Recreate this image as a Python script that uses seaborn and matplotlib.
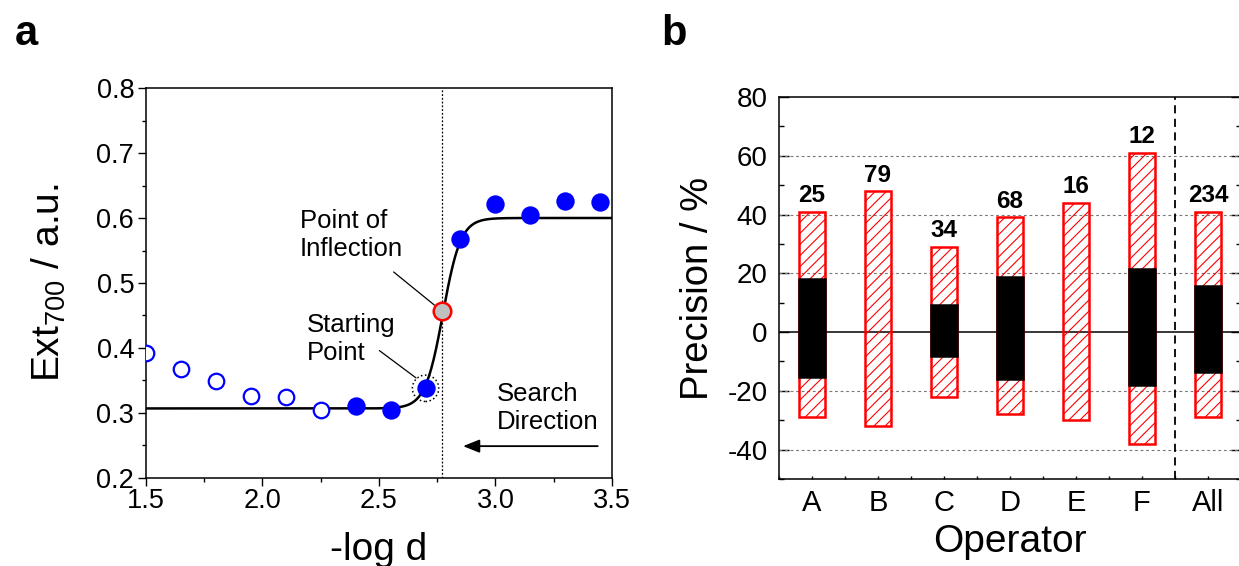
import numpy as np
import pandas as pd
import matplotlib
matplotlib.use("Agg")
import matplotlib.pyplot as plt
from matplotlib.ticker import MultipleLocator, FormatStrFormatter
import seaborn as sns

# ---------------- Panel a data ----------------
open_x = [1.50, 1.65, 1.80, 1.95, 2.10, 2.25]
open_y = [0.392, 0.367, 0.349, 0.326, 0.325, 0.304]
filled_x = [2.40, 2.55, 2.70, 2.85, 3.00, 3.15, 3.30, 3.45]
filled_y = [0.311, 0.304, 0.338, 0.567, 0.621, 0.605, 0.626, 0.624]
inflection_x = [2.77]
inflection_y = [0.457]
start_x = [2.70]
start_y = [0.338]
# Boltzmann fit parameters
fit_bottom = 0.307
fit_top = 0.600
fit_center = 2.775
fit_width = 0.038

# ---------------- Panel b data ----------------
operators = ["A", "B", "C", "D", "E", "F", "All"]
outer_high = [41.0, 48.0, 29.0, 39.0, 44.0, 61.0, 41.0]
outer_low = [-29.0, -32.0, -22.0, -28.0, -30.0, -38.0, -29.0]
inner_high = [17.9, np.nan, 9.2, 18.6, np.nan, 21.6, 15.6]
inner_low = [-15.2, np.nan, -8.3, -15.9, np.nan, -17.9, -13.7]
counts = [25, 79, 34, 68, 16, 12, 234]

sns.set_style("ticks")
plt.rcParams['font.family'] = ['Liberation Sans', 'DejaVu Sans']
plt.rcParams['mathtext.fontset'] = 'custom'
plt.rcParams['mathtext.rm'] = 'Liberation Sans'
plt.rcParams['mathtext.it'] = 'Liberation Sans:italic'
plt.rcParams['mathtext.bf'] = 'Liberation Sans:bold'
plt.rcParams['mathtext.default'] = 'regular'
plt.rcParams['hatch.linewidth'] = 0.8
plt.rcParams['axes.linewidth'] = 1.1
plt.rcParams['axes.unicode_minus'] = False
plt.rcParams['axes.edgecolor'] = 'black'
plt.rcParams['axes.labelcolor'] = 'black'
plt.rcParams['text.color'] = 'black'
plt.rcParams['xtick.color'] = 'black'
plt.rcParams['ytick.color'] = 'black'
plt.rcParams['xtick.labelcolor'] = 'black'
plt.rcParams['ytick.labelcolor'] = 'black'

fig = plt.figure(figsize=(12.39, 5.66), dpi=100)
axa = fig.add_axes([0.1178, 0.1555, 0.3761, 0.689])
axb = fig.add_axes([0.6287, 0.1537, 0.3729, 0.6749])

# ---------------- Panel a ----------------
curve_x = np.linspace(1.5, 3.5, 600)
curve_y = fit_top + (fit_bottom - fit_top) / (1 + np.exp((curve_x - fit_center) / fit_width))

axa.axvline(inflection_x[0], color='black', lw=0.9, ls=(0, (1.5, 1.5)), zorder=1)
sns.lineplot(x=curve_x, y=curve_y, ax=axa, color='black', lw=1.8, zorder=2)
sns.scatterplot(x=open_x, y=open_y, ax=axa, s=125, color='white',
                edgecolor='#0000ff', linewidth=1.6, zorder=3)
sns.scatterplot(x=filled_x, y=filled_y, ax=axa, s=175, color='#0000ff',
                linewidth=0, zorder=3)
sns.scatterplot(x=inflection_x, y=inflection_y, ax=axa, s=160, color='#c0c0c0',
                edgecolor='#ff0000', linewidth=1.8, zorder=4)
axa.scatter(start_x, start_y, s=360, facecolors='none', edgecolors='black',
            linewidths=1.1, linestyles=':', zorder=4)

text_kw = dict(fontsize=18.5, ha='left', va='top', linespacing=1.2)
axa.text(2.16, 0.614, "Point of\nInflection", **text_kw)
axa.text(2.19, 0.454, "Starting\nPoint", **text_kw)
axa.text(3.006, 0.347, "Search\nDirection", **text_kw)
axa.plot([2.563, 2.738], [0.517, 0.466], color='black', lw=0.9, zorder=3)
axa.plot([2.502, 2.659], [0.396, 0.354], color='black', lw=0.9, zorder=3)
axa.annotate('', xy=(2.861, 0.249), xytext=(3.439, 0.249),
             arrowprops=dict(arrowstyle='-|>,head_length=0.5,head_width=0.2',
                             mutation_scale=20, lw=1.3, color='black',
                             shrinkA=0, shrinkB=0))

axa.set_xlim(1.5, 3.5)
axa.set_ylim(0.2, 0.8)
axa.xaxis.set_major_locator(MultipleLocator(0.5))
axa.xaxis.set_minor_locator(MultipleLocator(0.25))
axa.yaxis.set_major_locator(MultipleLocator(0.1))
axa.yaxis.set_minor_locator(MultipleLocator(0.05))
axa.xaxis.set_major_formatter(FormatStrFormatter('%.1f'))
axa.yaxis.set_major_formatter(FormatStrFormatter('%.1f'))
axa.tick_params(which='major', direction='out', length=5.5, width=1.0, labelsize=19.5)
axa.tick_params(which='minor', direction='out', length=3, width=1.0)
axa.tick_params(axis='x', which='major', pad=2)
axa.tick_params(axis='y', which='major', pad=3)
for sp in axa.spines.values():
    sp.set_visible(True)
    sp.set_linewidth(1.1)
axa.set_xlabel('-log d', fontsize=28, labelpad=12.5)
axa.set_ylabel('Ext$_{700}$ / a.u.', fontsize=28, labelpad=20)

# ---------------- Panel b ----------------
df = pd.DataFrame({'op': operators, 'hi': outer_high, 'lo': outer_low,
                   'ihi': inner_high, 'ilo': inner_low, 'n': counts})
df['pos'] = np.arange(1, len(df) + 1)

for v in [-40, -20, 20, 40, 60]:
    axb.axhline(v, color='#777777', lw=0.8, ls=(0, (2.5, 2.5)), zorder=1)
axb.axhline(0, color='black', lw=1.1, zorder=2)
axb.axvline(6.5, color='black', lw=1.3, ls=(0, (4.5, 3)), zorder=2)

axb.bar(df['pos'], df['hi'] - df['lo'], bottom=df['lo'], width=0.38,
        facecolor='none', edgecolor='#ff0000', hatch='///', linewidth=1.8, zorder=3)
inner = df.dropna(subset=['ihi'])
axb.bar(inner['pos'], inner['ihi'] - inner['ilo'], bottom=inner['ilo'], width=0.38,
        color='black', edgecolor='black', linewidth=1.8, zorder=4)
for p, h, n in zip(df['pos'], df['hi'], df['n']):
    axb.text(p, h + 3.2, str(n), ha='center', va='baseline', fontsize=17.5,
             fontweight='bold', color='black', zorder=5)

axb.set_xlim(0.5, 7.5)
axb.set_ylim(-50, 80)
axb.set_xticks(df['pos'])
axb.set_xticklabels(operators)
axb.xaxis.set_minor_locator(MultipleLocator(0.5))
axb.yaxis.set_minor_locator(MultipleLocator(10))
axb.set_yticks([-40, -20, 0, 20, 40, 60, 80])
axb.tick_params(axis='y', which='major', direction='in', length=7.5, width=1.0,
                labelsize=20, pad=8, right=True)
axb.tick_params(axis='y', which='minor', direction='in', length=3.8, width=1.0, right=True)
axb.tick_params(axis='x', which='both', direction='in', length=2.5, width=1.0)
axb.tick_params(axis='x', which='major', labelsize=21, pad=7)
for sp in axb.spines.values():
    sp.set_visible(True)
    sp.set_linewidth(1.1)
axb.set_xlabel('Operator', fontsize=28, labelpad=5)
axb.set_ylabel('Precision / %', fontsize=27.5, labelpad=8)

fig.text(15 / 1239, 1 - 45 / 566, 'a', fontsize=30, fontweight='bold', va='baseline')
fig.text(661 / 1239, 1 - 45 / 566, 'b', fontsize=30, fontweight='bold', va='baseline')

fig.savefig('out.png', dpi=100)
